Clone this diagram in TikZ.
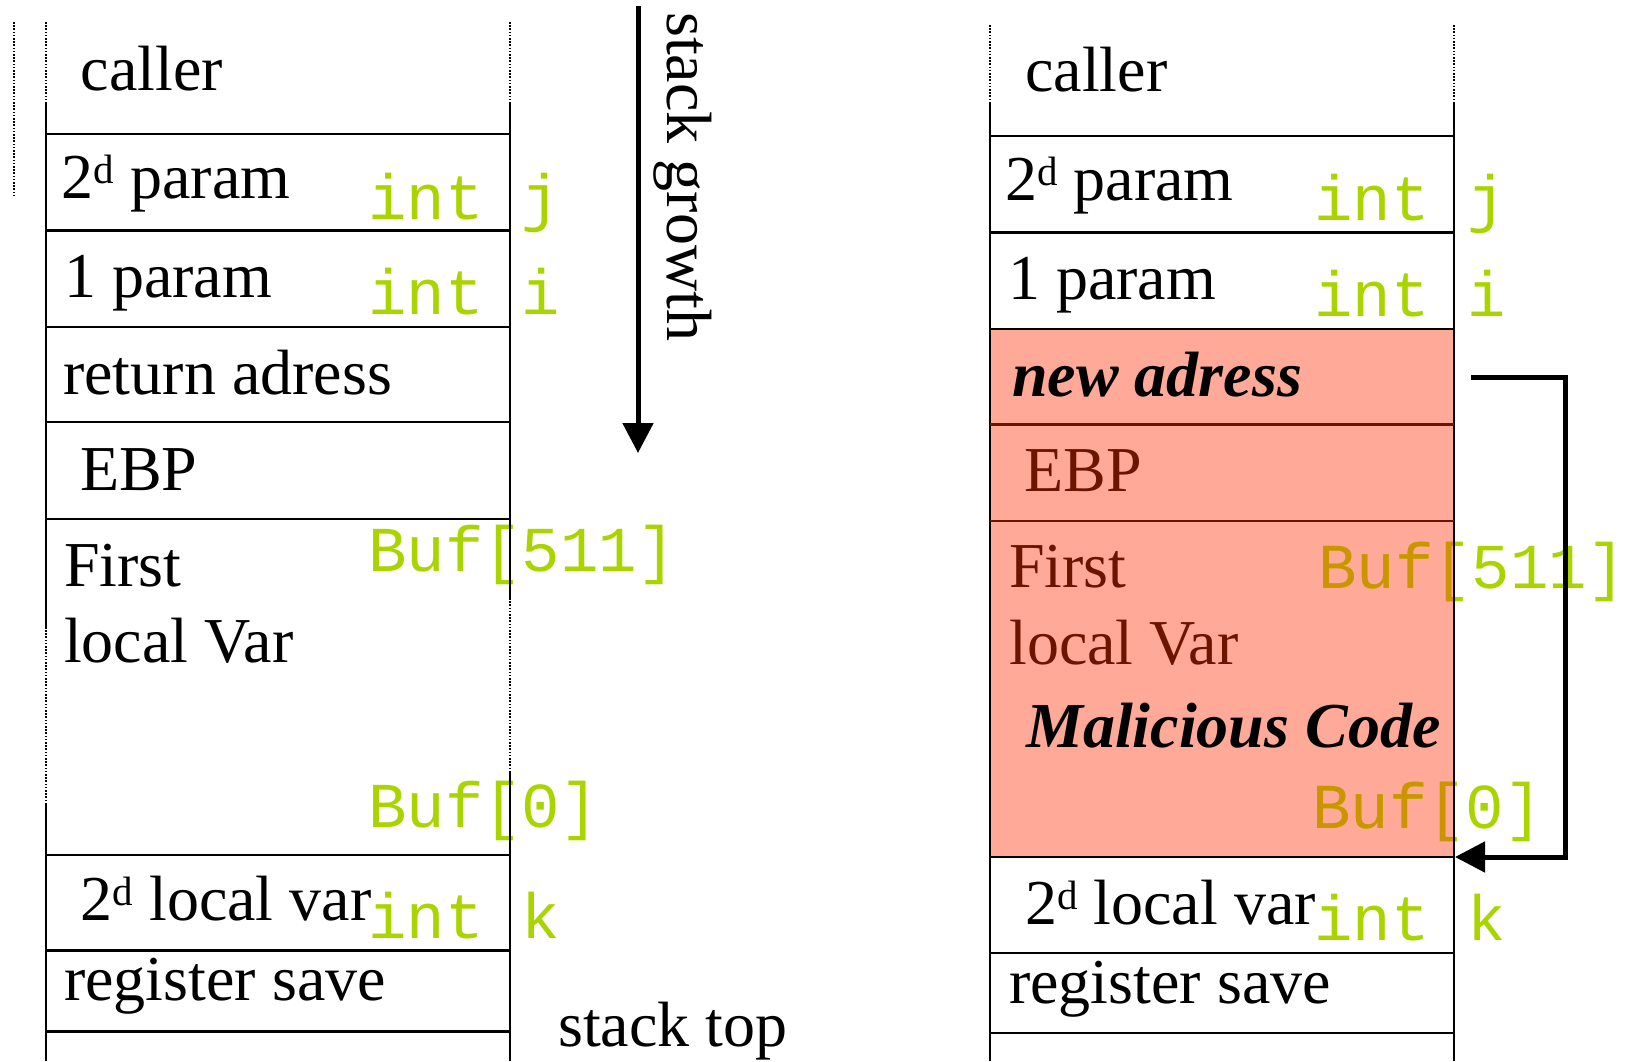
\documentclass[tikz,border=0pt]{standalone}
\usepackage{fontspec}
\setmainfont{Liberation Serif}
\newfontfamily\codefont{Liberation Mono}
\usetikzlibrary{arrows.meta}
\definecolor{codegreen}{RGB}{170,212,0}
\definecolor{codeamber}{RGB}{204,148,0}
\definecolor{smashfill}{RGB}{255,169,152}
\definecolor{rust}{RGB}{108,20,0}
% raised "d" of the ordinal 2d
\newcommand\ordd{\raisebox{15pt}{\fontsize{41}{41}\selectfont d}}

\begin{document}
\begin{tikzpicture}[x=1pt,y=-1pt,
  cell/.style={anchor=base west,inner sep=0pt,font=\fontsize{64}{72}\selectfont},
  hot/.style={anchor=base west,inner sep=0pt,font=\bfseries\itshape\fontsize{64}{72}\selectfont},
  code/.style={anchor=base west,inner sep=0pt,font=\codefont\fontsize{64}{72}\selectfont,text=codegreen},
  hline/.style={line width=2.2pt},
  vline/.style={line width=1.8pt},
  guide/.style={line width=2pt,dash pattern=on 1.6pt off 1.6pt},
  bigarrow/.style={line width=5pt,line join=miter,-{Triangle[length=30pt,width=30pt]}}]
\useasboundingbox (0,0) rectangle (1627,1061);

% overwritten frames of the attacked stack
\fill[smashfill] (990.2,329) rectangle (1454.3,857);

% ---------- variable names (left stack) ----------
\node[code] (Lj)  at (368,219) {int j};
\node[code] (Li)  at (368,314) {int i};
\node[code] (Lhi) at (368,571) {Buf[511]};
\node[code] (Llo) at (368,827) {Buf[0]};
\node[code] (Lk)  at (368,938) {int k};

% ---------- variable names (right stack) ----------
\node[code] (Rj)  at (1314,220) {int j};
\node[code] (Ri)  at (1314,316) {int i};
\node[code] (Rhi) at (1318,588) {Buf[511]};
\node[code] (Rlo) at (1312,828) {Buf[0]};
\node[code] (Rk)  at (1314,940) {int k};
% the part of the buffer names lying on the overwritten area
\begin{scope}
  \clip (990.2,329) rectangle (1454.3,857);
  \node[code,text=codeamber] (RhiShade) at (1318,588) {Buf[511]};
  \node[code,text=codeamber] (RloShade) at (1312,828) {Buf[0]};
\end{scope}

% ---------- guide lines ----------
\draw[guide] (13.6,22) -- (13.6,197);
\draw[guide] (45.7,22) -- (45.7,1061);
\draw[guide] (509.6,22) -- (509.6,1061);
\draw[guide] (990.2,25) -- (990.2,200);
\draw[guide] (1454.3,25) -- (1454.3,103);

% ---------- left stack frame ----------
\draw[vline] (45.7,103) -- (45.7,629);
\draw[vline] (45.7,804) -- (45.7,1061);
\draw[vline] (509.6,103) -- (509.6,598);
\draw[vline] (509.6,772) -- (509.6,1061);
\foreach \y in {134,230.4,326.9,422.3,518.8,855,950.5,1031.4}
  \draw[hline] (45.7,\y) -- (509.6,\y);

% ---------- right stack frame ----------
\draw[vline] (990.2,103) -- (990.2,1061);
\draw[vline] (1454.3,103) -- (1454.3,1061);
\foreach \y in {136,232.5,329,857,952.8,1033}
  \draw[hline] (990.2,\y) -- (1454.3,\y);
\foreach \y in {424.4,520.9}
  \draw[hline,rust] (990.2,\y) -- (1454.3,\y);

% ---------- left stack contents ----------
\node[cell] (Lcaller) at (80.4,90) {caller};
\node[cell] (Lp2)     at (61.6,198) {2\ordd{} param};
\node[cell] (Lp1)     at (64,297) {1 param};
\node[cell] (Lret)    at (63,394) {return adress};
\node[cell] (Lebp)    at (80,490) {EBP};
\node[cell] (Lfirst)  at (64,586) {First};
\node[cell] (Llocal)  at (64,662) {local Var};
\node[cell] (Lv2)     at (80.6,920.5) {2\ordd{} local var};
\node[cell] (Lreg)    at (64,1000) {register save};
\node[cell] (stacktop) at (558,1046) {stack top};

% ---------- right stack contents ----------
\node[cell] (Rcaller) at (1025,91) {caller};
\node[cell] (Rp2)     at (1005,200) {2\ordd{} param};
\node[cell] (Rp1)     at (1008,299.5) {1 param};
\node[hot]  (Rnew)    at (1012,396) {new adress};
\node[cell,text=rust] (Rebp)   at (1024,491.5) {EBP};
\node[cell,text=rust] (Rfirst) at (1009,587) {First};
\node[cell,text=rust] (Rlocal) at (1009,664) {local Var};
\node[hot]  (Rmal)    at (1026,747) {Malicious Code};
\node[cell] (Rv2)     at (1025,924) {2\ordd{} local var};
\node[cell] (Rreg)    at (1009,1003) {register save};

% ---------- stack growth direction ----------
\coordinate (growtop) at (638,6);
\coordinate (growend) at (638,453);
\draw[bigarrow] (growtop) -- (growend);
\node[cell,rotate=-90] (growth) at (667,12) {stack growth};

% ---------- return jumps into the buffer ----------
\coordinate (jmpfrom) at (1471,377);
\coordinate (jmpturn) at (1565,857);
\coordinate (jmpto)   at (1455,857);
\draw[bigarrow] (jmpfrom) -| (jmpturn) -- (jmpto);
\end{tikzpicture}
\end{document}
